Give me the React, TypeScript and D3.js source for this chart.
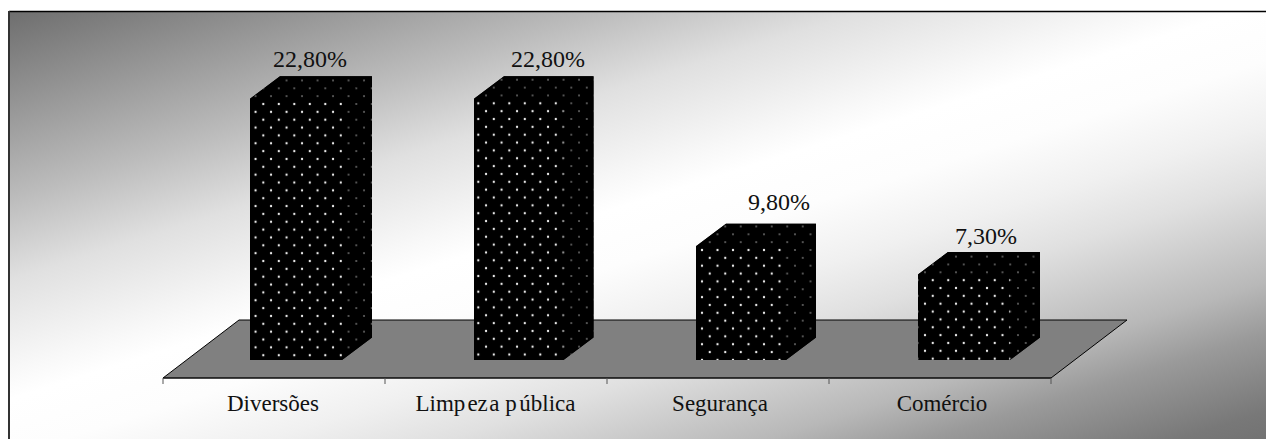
import React from "react";
import * as d3 from "d3";

const categories = ["Diversões", "Limpeza pública", "Segurança", "Comércio"];
const values = [22.8, 22.8, 9.8, 7.3];
const valueLabels = ["22,80%", "22,80%", "9,80%", "7,30%"];

// layout, kept apart from the data
const barOffsets = [87, 89, 89, 89];
const barWidths = [92, 89.5, 90, 92];
const labelDX = [60, 74, 83, 68];
const labelDY = [31.7, 31.7, 36, 31];
const catDX = [-1, -0.5, 2, 2];
const dotPhase: [number, number][] = [[263.3, 104], [478.3, 103.3], [702, 250], [925, 272.3]];
const bgStops: [number, string][] = [
  [0, "#6e6e6e"], [0.226, "#bcbcbc"], [0.322, "#e0e0e0"], [0.43, "#f8f8f8"], [0.465, "#ffffff"],
  [0.533, "#fdfdfd"], [0.611, "#f0f0f0"], [0.678, "#e0e0e0"], [0.798, "#b8b8b8"], [0.859, "#9a9a9a"],
  [0.953, "#787878"], [1, "#707070"],
];

const W = 1266, H = 439;
const floorLeft = 163, floorRight = 1051, floorFront = 378, floorBack = 320;
const depthX = 76, barBase = 360, barDX = 30, barDY = 22.5;
const cellW = 15.5, cellH = 15.7;

function Dots({ id, px, py, color, r }: { id: string; px: number; py: number; color: string; r: number }) {
  const pts = [[0, 0], [cellW, 0], [0, cellH], [cellW, cellH], [cellW / 2, cellH / 2]];
  return (
    <pattern id={id} patternUnits="userSpaceOnUse" x={px} y={py} width={cellW} height={cellH}>
      <rect width={cellW} height={cellH} fill="#000" />
      {pts.map((p, i) => <circle key={i} cx={p[0]} cy={p[1]} r={r} fill={color} />)}
    </pattern>
  );
}

export default function App() {
  const x = d3.scaleBand<string>().domain(categories).range([floorLeft, floorRight]);
  const y = d3.scaleLinear().domain([7.3, 22.8]).range([274.5, 98.7]);
  const line = d3.line();
  const ticks = d3.range(categories.length + 1).map(i => floorLeft + i * x.bandwidth());
  const serif = "'Liberation Serif', 'Times New Roman', serif";
  return (
    <svg width={W} height={H} style={{ position: "absolute", left: 0, top: 0, display: "block" }} fontFamily={serif}>
      <defs>
        <linearGradient id="bg" gradientUnits="userSpaceOnUse" x1="9" y1="11" x2="248" y2="771">
          {bgStops.map(([o, c]) => <stop key={o} offset={o} stopColor={c} />)}
        </linearGradient>
        {dotPhase.map((p, i) => (
          <React.Fragment key={i}>
            <Dots id={`front${i}`} px={p[0]} py={p[1]} color="#eeeeee" r={1.15} />
            <Dots id={`side${i}`} px={p[0]} py={p[1]} color="#666666" r={1.05} />
          </React.Fragment>
        ))}
      </defs>
      <rect x={9} y={11.5} width={W} height={H} fill="url(#bg)" />
      <line x1={9} x2={W} y1={11.5} y2={11.5} stroke="#000" strokeWidth={1.5} />
      <line x1={9} x2={9} y1={11} y2={H} stroke="#333" strokeWidth={2} />
      <path
        d={line([[floorLeft, floorFront], [floorLeft + depthX, floorBack], [floorRight + depthX, floorBack], [floorRight, floorFront]])! + "Z"}
        fill="#808080" stroke="#000" strokeWidth={1}
      />
      <line x1={floorLeft} x2={floorRight} y1={floorFront} y2={floorFront} stroke="#111" strokeWidth={1.2} />
      {ticks.map((t, i) => (
        <line key={i} x1={t} x2={t} y1={floorFront} y2={floorFront + 6} stroke="#555" strokeWidth={1} />
      ))}
      {categories.map((c, i) => {
        const left = x(c)! + barOffsets[i];
        const right = left + barWidths[i];
        const top = y(values[i]);
        const cx = x(c)! + x.bandwidth() / 2 + catDX[i];
        const outline = line([
          [left, top], [left + barDX, top - barDY], [right + barDX, top - barDY],
          [right + barDX, barBase - barDY], [right, barBase], [left, barBase],
        ])! + "Z";
        return (
          <g key={c}>
            <path d={outline} fill="#000" />
            <path d={line([[left, top], [left + barDX, top - barDY], [right + barDX, top - barDY], [right, top]])! + "Z"} fill={`url(#side${i})`} />
            <path d={line([[right, top], [right + barDX, top - barDY], [right + barDX, barBase - barDY], [right, barBase]])! + "Z"} fill={`url(#side${i})`} />
            <rect x={left} y={top} width={barWidths[i]} height={barBase - top} fill={`url(#front${i})`} />
            <text x={left + labelDX[i]} y={top - labelDY[i]} textAnchor="middle" fontSize={24} fill="#111">{valueLabels[i]}</text>
            {c === "Limpeza pública" ? (
              <text x={cx} y={411} textAnchor="middle" fontSize={23} fill="#111">
                Limp<tspan dx={2}>ez</tspan><tspan dx={1.5}>a</tspan> p<tspan dx={2.5}>ública</tspan>
              </text>
            ) : (
              <text x={cx} y={411} textAnchor="middle" fontSize={23} fill="#111">{c}</text>
            )}
          </g>
        );
      })}
    </svg>
  );
}
